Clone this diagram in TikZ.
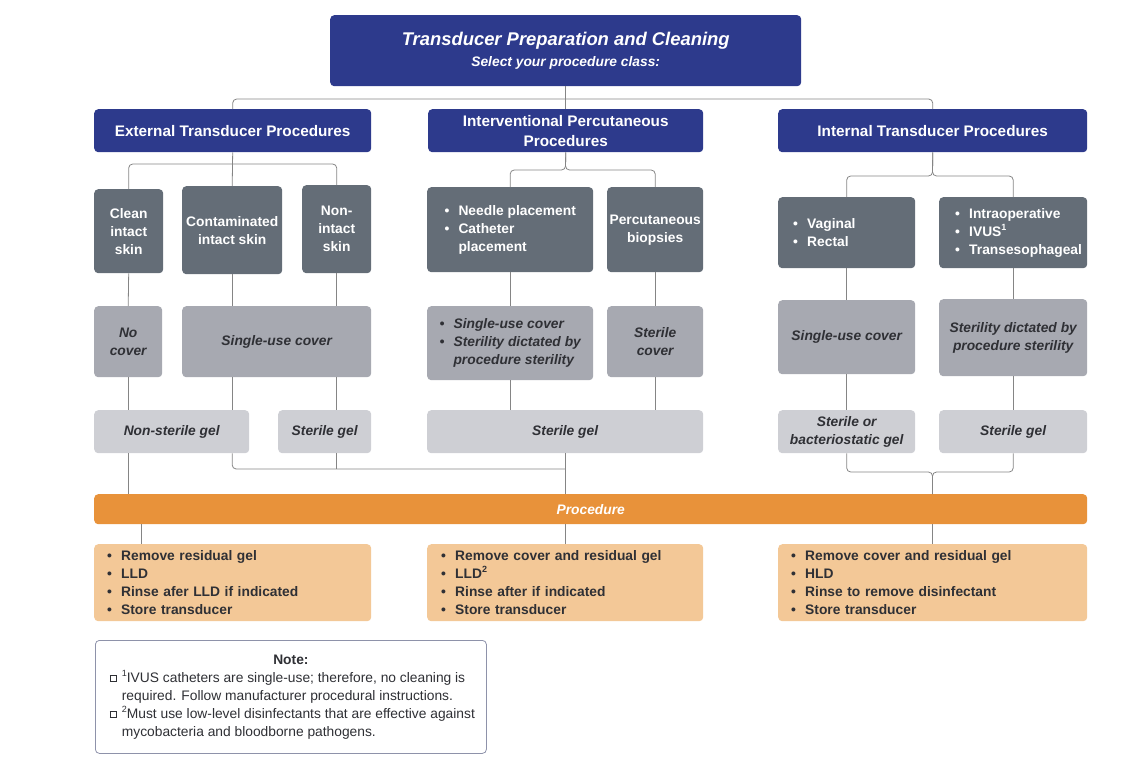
\documentclass[tikz,border=0pt]{standalone}
\usepackage{fontspec}
\setmainfont{Liberation Sans}
\usepackage{tikz}
\definecolor{clsblue}{HTML}{2D3A8C}
\definecolor{sitegrey}{HTML}{646D77}
\definecolor{covgrey}{HTML}{A7A9B1}
\definecolor{gelgrey}{HTML}{CECFD4}
\definecolor{procorange}{HTML}{E8923A}
\definecolor{carepeach}{HTML}{F3C897}
\definecolor{txtdark}{HTML}{2F3035}
\definecolor{linegrey}{HTML}{858585}
\definecolor{noteedge}{HTML}{8E92AA}
\hyphenpenalty=10000
\newcommand\itm[1]{\makebox[14pt][l]{•}#1}
\newcommand\itmcont[1]{\hspace*{14pt}#1}
\newcommand\supnum[1]{\raisebox{0.42em}{\fontsize{9}{9}\selectfont #1}}
\newcommand\sqbul{\raisebox{1.5pt}{\setlength\fboxsep{0pt}\setlength\fboxrule{0.9pt}\fbox{\rule{0pt}{5pt}\hspace{5pt}}}}
\newcommand\nitm[1]{\makebox[362pt][l]{\makebox[12pt][l]{\sqbul}#1}}
\newcommand\ncont[1]{\makebox[362pt][l]{\hspace*{12pt}#1}}
\tikzstyle{box}=[rounded corners=4pt, anchor=north west, inner sep=0pt, align=center, font=\bfseries\fontsize{13.8}{18}\selectfont]
\tikzstyle{cls}=[box, fill=clsblue, text=white, font=\bfseries\fontsize{15.3}{20}\selectfont]
\tikzstyle{site}=[box, fill=sitegrey, text=white]
\tikzstyle{cover}=[box, fill=covgrey, text=txtdark, font=\bfseries\itshape\fontsize{13.8}{18}\selectfont]
\tikzstyle{gel}=[box, fill=gelgrey, text=txtdark, font=\bfseries\itshape\fontsize{13.8}{18}\selectfont]
\tikzstyle{care}=[box, fill=carepeach, text=txtdark, align=left, inner xsep=13pt]
\tikzstyle{link}=[draw=linegrey, line width=0.8pt, rounded corners=4pt]

\begin{document}
\begin{tikzpicture}[x=1pt, y=-1pt]
		   \useasboundingbox (0,0) rectangle (1131,779);
		   \begin{scope}
			   % title and procedure classes
			   \node (ttl) at (330,15)[box, fill=clsblue, text=white, minimum width=471, minimum height=71, font=\bfseries\itshape\fontsize{18.4}{21}\selectfont] {Transducer Preparation and Cleaning\\{\fontsize{13.8}{21}\selectfont Select your procedure class:}};
			   \node (ext) at (94,109)[cls, minimum width=277, minimum height=43] {External Transducer Procedures};
			   \node (ipp) at (428,109)[cls, minimum width=275, minimum height=43] {Interventional Percutaneous\\Procedures};
			   \node (int) at (778,109)[cls, minimum width=309, minimum height=43] {Internal Transducer Procedures};
			   % sites
			   \node (clean) at (94,189)[site, minimum width=69, minimum height=84] {Clean\\intact\\skin};
			   \node (contam) at (182,186)[site, minimum width=100, minimum height=88] {Contaminated\\intact skin};
			   \node (nonin) at (302,185)[site, minimum width=69, minimum height=88] {Non-\\intact\\skin};
			   \node (needle) at (427,187)[site, minimum width=166, minimum height=85, align=left] {\itm{Needle placement}\\\itm{Catheter}\\\itmcont{placement}};
			   \node (perc) at (607,187)[site, minimum width=96, minimum height=85] {Percutaneous\\biopsies};
			   \node (vag) at (778,197)[site, minimum height=71, align=left, inner xsep=15pt, text width=107] {\itm{Vaginal}\\\itm{Rectal}};
			   \node (intra) at (939,197)[site, minimum height=71, align=left, inner xsep=16pt, text width=116] {\itm{Intraoperative}\\\itm{IVUS\supnum{1}}\\\itm{Transesophageal}};
			   % covers
			   \node (nocov) at (94,306)[cover, minimum width=68, minimum height=71] {No\\cover};
			   \node (sucov) at (182,306)[cover, minimum width=189, minimum height=71] {Single-use cover};
			   \node (ivcov) at (427,306)[cover, minimum width=166, minimum height=74, align=left] {\itm{Single-use cover}\\\itm{Sterility dictated by}\\\itmcont{procedure sterility}};
			   \node (stcov) at (607,306)[cover, minimum width=96, minimum height=71] {Sterile\\cover};
			   \node (incov) at (778,300)[cover, minimum width=137, minimum height=74] {Single-use cover};
			   \node (stdic) at (939,299)[cover, minimum width=148, minimum height=77] {Sterility dictated by\\procedure sterility};
			   % gels
			   \node (nsgel) at (94,410)[gel, minimum width=155, minimum height=43] {Non-sterile gel};
			   \node (sgel) at (278,410)[gel, minimum width=93, minimum height=43] {Sterile gel};
			   \node (ivgel) at (427,410)[gel, minimum width=276, minimum height=43] {Sterile gel};
			   \node (sbgel) at (778,410)[gel, minimum width=137, minimum height=43] {Sterile or\\bacteriostatic gel};
			   \node (isgel) at (939,410)[gel, minimum width=148, minimum height=43] {Sterile gel};
			   % procedure and after care
			   \node (proc) at (94,494)[box, fill=procorange, text=white, minimum width=993, minimum height=30, font=\bfseries\itshape\fontsize{13.8}{18}\selectfont] {Procedure};
			   \node (care1) at (94,544)[care, text width=251, minimum height=77] {\itm{Remove residual gel}\\\itm{LLD}\\\itm{Rinse afer LLD if indicated}\\\itm{Store transducer}};
			   \node (care2) at (427,544)[care, inner xsep=14pt, text width=248, minimum height=77] {\itm{Remove cover and residual gel}\\\itm{LLD\supnum{2}}\\\itm{Rinse after if indicated}\\\itm{Store transducer}};
			   \node (care3) at (778,544)[care, text width=283, minimum height=77] {\itm{Remove cover and residual gel}\\\itm{HLD}\\\itm{Rinse to remove disinfectant}\\\itm{Store transducer}};
			   \node (note) at (95,640)[box, draw=noteedge, fill=white, line width=0.8pt, minimum width=391, minimum height=113, text=txtdark, font=\fontsize{13.8}{18}\selectfont] {\textbf{Note:}\\\nitm{\supnum{1}IVUS catheters are single-use; therefore, no cleaning is}\\\ncont{required. Follow manufacturer procedural instructions.}\\\nitm{\supnum{2}Must use low-level disinfectants that are effective against}\\\ncont{mycobacteria and bloodborne pathogens.}};
		   \end{scope}
		   \begin{scope}
			   \coordinate (extbus) at (233,164);
			   \coordinate (ivbus) at (565.5,170);
			   \coordinate (inbus) at (932.5,176);
			   \coordinate (gelbus) at (565.5,469);
			   \coordinate (ingelbus) at (932.5,472);
			   \coordinate (care1top) at ([xshift=47pt]care1.north west);
			   \path [link] (ext.north) -- ++(0,-10) -| (int.north);
			   \path [link] (ttl.south) -- (ipp.north);
			   \path [link] (clean.north) |- (extbus) -| (nonin.north);
			   \path [link] (ext.south) -- (contam.north);
			   \path [link] (ipp.south) -- (ivbus) -| (needle.north);
			   \path [link] (ipp.south) -- (ivbus) -| (perc.north);
			   \path [link] (int.south) -- (inbus) -| (vag.north);
			   \path [link] (int.south) -- (inbus) -| (intra.north);
			   \path [link] (clean.south) -- (nocov.north);
			   \path [link] (contam.south) -- (contam.south |- sucov.north);
			   \path [link] (nonin.south) -- (nonin.south |- sucov.north);
			   \path [link] (needle.south) -- (ivcov.north);
			   \path [link] (perc.south) -- (stcov.north);
			   \path [link] (vag.south) -- (incov.north);
			   \path [link] (intra.south) -- (stdic.north);
			   \path [link] (nocov.south) -- (nocov.south |- nsgel.north);
			   \path [link] (contam.south |- sucov.south) -- (contam.south |- nsgel.north);
			   \path [link] (nonin.south |- sucov.south) -- (nonin.south |- sgel.north);
			   \path [link] (ivcov.south) -- (ivcov.south |- ivgel.north);
			   \path [link] (stcov.south) -- (stcov.south |- ivgel.north);
			   \path [link] (incov.south) -- (sbgel.north);
			   \path [link] (stdic.south) -- (isgel.north);
			   \path [link] (nocov.south |- nsgel.south) -- (nocov.south |- proc.north);
			   \path [link] (contam.south |- nsgel.south) |- (gelbus);
			   \path [link] (nonin.south |- sgel.south) -- (nonin.south |- gelbus);
			   \path [link] (ivgel.south) -- (ivgel.south |- proc.north);
			   \path [link] (sbgel.south) |- (ingelbus) -- (ingelbus |- proc.north);
			   \path [link] (isgel.south) |- (ingelbus) -- (ingelbus |- proc.north);
			   \path [link] (care1top |- proc.south) -- (care1top);
			   \path [link] (care2.north |- proc.south) -- (care2.north);
			   \path [link] (care3.north |- proc.south) -- (care3.north);
		   \end{scope}
\end{tikzpicture}
\end{document}
